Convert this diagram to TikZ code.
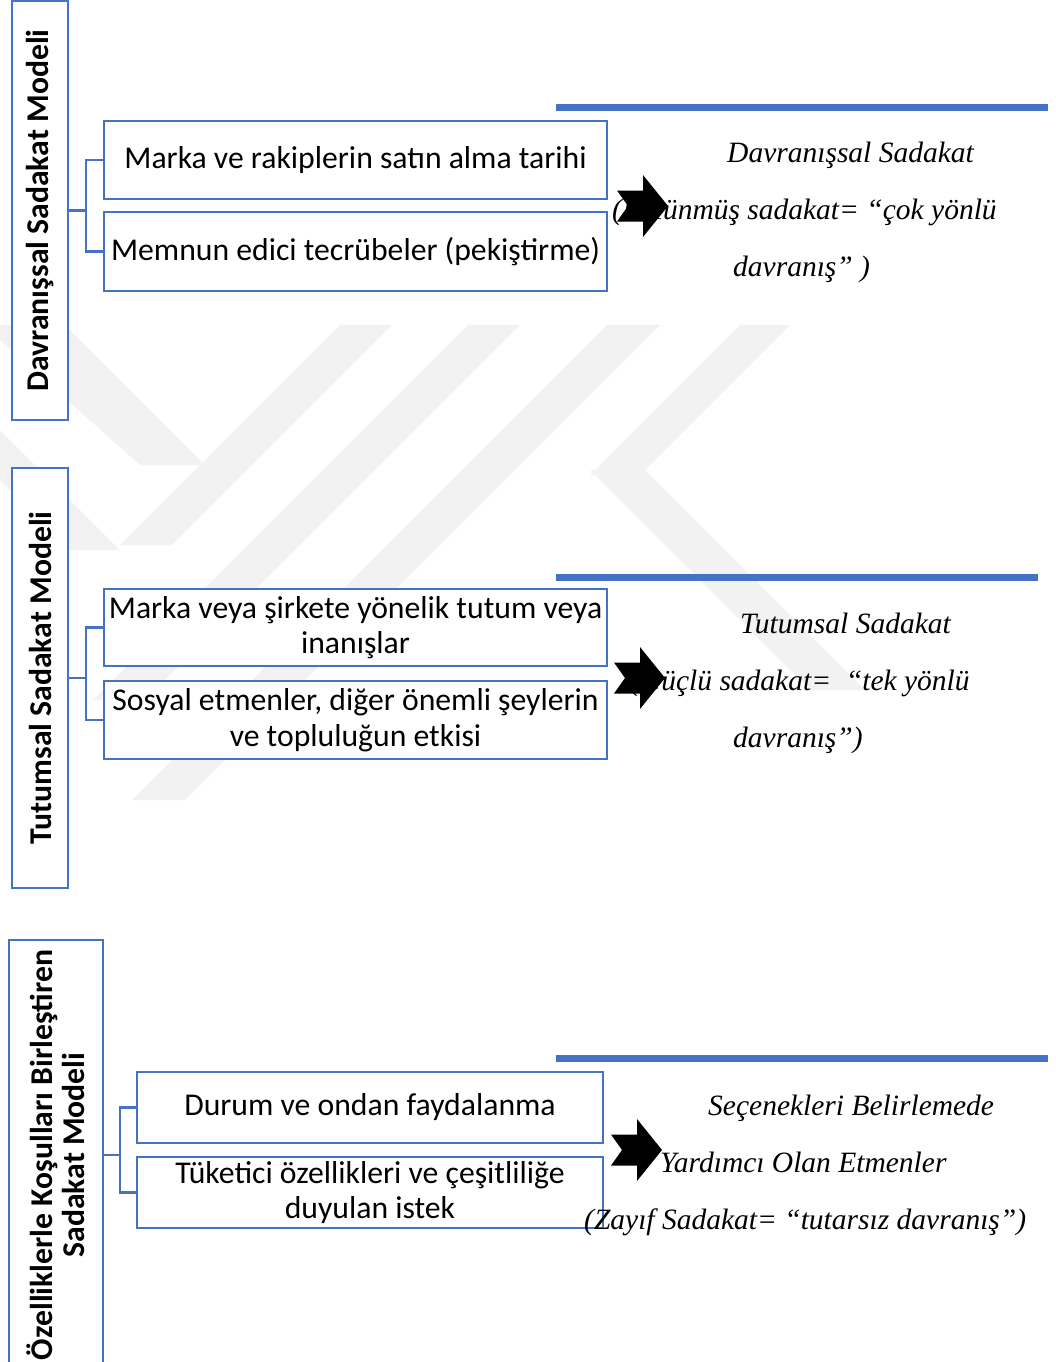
\documentclass[tikz,border=0pt]{standalone}
\usepackage{fontspec}
\setmainfont{Liberation Serif}
\newfontfamily\calfont{Carlito}
\definecolor{accent}{RGB}{68,114,196}
\definecolor{wmark}{RGB}{242,242,242}

\begin{document}
\begin{tikzpicture}[x=1pt,y=-1pt,
  sidebox/.style={draw=accent, line width=2.6pt, fill=white, rotate=90, inner sep=0pt,
    font=\calfont\bfseries\fontsize{31.7}{32}\selectfont, align=center},
  itembox/.style={draw=accent, line width=2.4pt, fill=white, inner sep=0pt,
    font=\calfont\fontsize{31.7}{35.5}\selectfont, align=center},
  conn/.style={draw=accent, line width=2.4pt},
  rule/.style={draw=accent, line width=7pt},
  note/.style={anchor=base west, inner sep=0pt, font=\itshape\fontsize{29.5}{34}\selectfont},
  notcharrow/.pic={\fill[black] (-51,-15.5) -- (-25,-15.5) -- (-25,-31) -- (0,0)
      -- (-25,31) -- (-25,15.5) -- (-51,15.5) -- (-40,0) -- cycle;}
]
\useasboundingbox (0,0) rectangle (1056,1362);

% faint background emblem made of diagonal strips
\begin{scope}[wmark]
  \fill (340,325) -- (392,325) -- (172,545) -- (120,545) -- cycle;
  \fill (468,325) -- (520,325) -- (145,700) -- (93,700) -- cycle;
  \fill (607,325) -- (660,325) -- (185,800) -- (132,800) -- cycle;
  \fill (740,325) -- (790,325) -- (640,475) -- (590,475) -- cycle;
  \fill (590,470) -- (645,470) -- (865,690) -- (810,690) -- cycle;
  \fill (0,325) -- (65,325) -- (205,465) -- (140,465) -- (0,340) -- cycle;
  \fill (0,430) -- (0,480) -- (70,550) -- (120,550) -- cycle;
\end{scope}

% ---------- Davranışsal Sadakat Modeli ----------
\node[sidebox, minimum width=419pt, minimum height=56pt] (v1) at (40,210.5) {Davranışsal Sadakat Modeli};
\node[itembox, minimum width=503pt, minimum height=78pt] (a1) at (355.5,160) {Marka ve rakiplerin satın alma tarihi};
\node[itembox, minimum width=503pt, minimum height=79pt] (a2) at (355.5,251.5) {Memnun edici tecrübeler (pekiştirme)};
\coordinate (j1) at (86,210.5);
\draw[conn] (v1.south) -- (j1);
\draw[conn] (a1.west) -| (j1) |- (a2.west);
\draw[rule] (556,107.5) -- (1048,107.5);
\node[note] (n11) at (727,162) {Davranışsal Sadakat};
\node[note] (n12) at (612,219) {(Bölünmüş sadakat= “çok yönlü};
\node[note] (n13) at (733,276) {davranış” )};
\pic at (668,206) {notcharrow};

% ---------- Tutumsal Sadakat Modeli ----------
\node[sidebox, minimum width=420pt, minimum height=56pt] (v2) at (40,678) {Tutumsal Sadakat Modeli};
\node[itembox, minimum width=503pt, minimum height=77pt] (b1) at (355.5,627.5) {Marka veya şirkete yönelik tutum veya\\inanışlar};
\node[itembox, minimum width=503pt, minimum height=78pt] (b2) at (355.5,720) {Sosyal etmenler, diğer önemli şeylerin\\ve topluluğun etkisi};
\coordinate (j2) at (86,678);
\draw[conn] (v2.south) -- (j2);
\draw[conn] (b1.west) -| (j2) |- (b2.west);
\draw[rule] (556,577.5) -- (1038,577.5);
\node[note] (n21) at (740,633) {Tutumsal Sadakat};
\node[note] (n22) at (630,690) {(Güçlü sadakat=\ \ “tek yönlü};
\node[note] (n23) at (733,747) {davranış”)};
\pic at (665,678) {notcharrow};

% ---------- Özelliklerle Koşulları Birleştiren Sadakat Modeli ----------
\node[sidebox, minimum width=430pt, minimum height=94pt] (v3) at (56,1155) {Özelliklerle Koşulları Birleştiren\\Sadakat Modeli};
\node[itembox, minimum width=466pt, minimum height=71pt] (c1) at (370,1107.5) {Durum ve ondan faydalanma};
\node[itembox, minimum width=466pt, minimum height=71pt] (c2) at (370,1192.5) {Tüketici özellikleri ve çeşitliliğe\\duyulan istek};
\coordinate (j3) at (120,1155);
\draw[conn] (v3.south) -- (j3);
\draw[conn] (c1.west) -| (j3) |- (c2.west);
\draw[rule] (556,1058.5) -- (1048,1058.5);
\node[note] (n31) at (708,1115) {Seçenekleri Belirlemede};
\node[note] (n32) at (660,1172) {Yardımcı Olan Etmenler};
\node[note] (n33) at (584,1229) {(Zayıf Sadakat= “tutarsız davranış”)};
\pic at (662,1150) {notcharrow};
\end{tikzpicture}
\end{document}
